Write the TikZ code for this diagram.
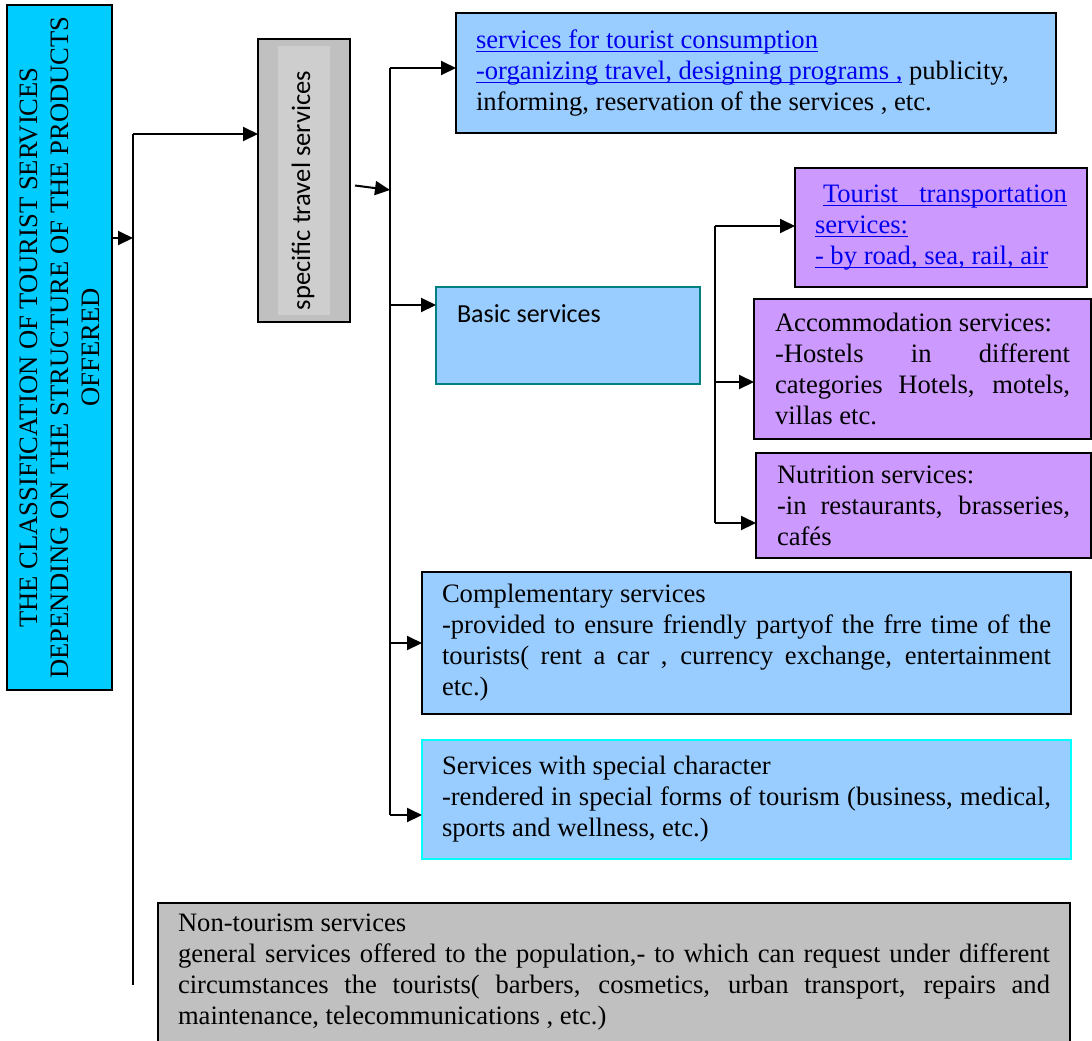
\documentclass[tikz,border=0pt]{standalone}
\usepackage{fontspec}
\setmainfont{Liberation Serif}
\newfontfamily\calibri{Carlito}
\usetikzlibrary{arrows.meta,calc}
\definecolor{maincyan}{HTML}{00CCFF}
\definecolor{skyblue}{HTML}{99CCFF}
\definecolor{lilac}{HTML}{CC99FF}
\definecolor{boxgray}{HTML}{C0C0C0}
\definecolor{bandgray}{HTML}{CECECE}
\definecolor{tealedge}{HTML}{008080}
\definecolor{cyanedge}{HTML}{00FFFF}
\definecolor{linkblue}{HTML}{0000EE}
\newcommand{\jline}[2][0pt]{{\spaceskip=\fontdimen2\font plus 1fil\relax\makebox[\dimexpr\hsize-#1\relax][s]{#2}}}
\newcommand{\lnk}[1]{\textcolor{linkblue}{\sbox0{#1}\rlap{\rule[-1.8pt]{\wd0}{0.5pt}}\usebox0}}

\begin{document}
\begin{tikzpicture}[x=0.5pt,y=-0.5pt]
\tikzstyle{box}=[draw,line width=1pt,outer sep=0pt,inner xsep=10pt,inner ysep=0pt,anchor=north west,align=left,font=\fontsize{13.3}{15.5}\selectfont,execute at begin node={\spaceskip=0pt\xspaceskip=0pt}]
\tikzstyle{feed}=[line width=1pt,-{Triangle[length=7.5pt,width=7pt]}]
\tikzstyle{trunk}=[line width=0.75pt]

\useasboundingbox (0,0) rectangle (1092,1040);

\node (main) [box,fill=maincyan,inner xsep=0pt,minimum width=52.5pt,minimum height=342.5pt] at (7,5) {\rotatebox{90}{\parbox{340pt}{\centering THE CLASSIFICATION OF TOURIST SERVICES\\ DEPENDING ON THE STRUCTURE OF THE PRODUCTS\\ OFFERED}}};

\node (spec) [box,fill=boxgray,inner xsep=0pt,minimum width=46pt,minimum height=141.5pt,font=\calibri\fontsize{13.3}{15.5}\selectfont,
  path picture={\fill[bandgray] ([xshift=10pt,yshift=-3.5pt]path picture bounding box.north west) rectangle ([xshift=-10pt,yshift=3.5pt]path picture bounding box.south east);}] at (258,39) {\rotatebox{90}{\raisebox{3pt}{specific travel services}\hspace{10pt}}};

\node (consum) [box,fill=skyblue,minimum width=300pt,minimum height=60pt,text width=280pt] at (456,13) {\lnk{services for tourist consumption}\\ \lnk{-organizing travel, designing programs ,} publicity,\\ informing, reservation of the services , etc.};

\node (basic) [box,draw=tealedge,fill=skyblue,inner xsep=10.5pt,inner ysep=9.5pt,text width=111pt,text height=8pt,text depth=21.5pt,font=\calibri\fontsize{13}{15.5}\selectfont] at (436,287) {Basic services};

\node (trans) [box,fill=lilac,minimum height=59.5pt,text width=126pt] at (795,168) {\hspace*{4pt}\lnk{\jline[4pt]{Tourist transportation}}\\ \lnk{services:}\\ \lnk{- by road, sea, rail, air}};

\node (accom) [box,fill=lilac,inner xsep=10.5pt,minimum height=70pt,text width=147.5pt] at (754,299) {Accommodation services:\\ \jline{-Hostels in different}\\ \jline{categories Hotels, motels,}\\ villas etc.};

\node (nutri) [box,fill=lilac,inner xsep=10.5pt,minimum height=52.5pt,text width=146.5pt] at (756,453) {Nutrition services:\\ \jline{-in restaurants, brasseries,}\\ cafés};

\node (comp) [box,fill=skyblue,minimum height=71pt,text width=304.5pt] at (422,572) {Complementary services\\ \jline{-provided to ensure friendly partyof the frre time of the}\\ \jline{tourists( rent a car , currency exchange, entertainment}\\ etc.)};

\node (special) [box,draw=cyanedge,fill=skyblue,minimum height=59.5pt,text width=304.5pt] at (422,740) {Services with special character\\ \jline{-rendered in special forms of tourism (business, medical,}\\ sports and wellness, etc.)};

\node (nontour) [box,fill=boxgray,minimum height=69.5pt,text width=436pt] at (158,903) {Non-tourism services\\ \jline{general services offered to the population,- to which can request under different}\\ \jline{circumstances the tourists( barbers, cosmetics, urban transport, repairs and}\\ maintenance, telecommunications , etc.)};

\coordinate (t1top) at (133,134);
\coordinate (t1bot) at (133,985);
\coordinate (t1in) at (133,238);
\coordinate (t2top) at (390,68);
\coordinate (t2bot) at (390,815);
\coordinate (t2in) at (390,190);
\coordinate (t2basic) at (390,305);
\coordinate (t3top) at (715,226);
\coordinate (t3bot) at (715,523);
\coordinate (t3acc) at (715,382);

\draw [trunk] (t1top) -- (t1bot);
\draw [feed] (main.east |- t1in) -- (t1in);
\draw [feed] (t1top) -- (t1top -| spec.west);

\draw [trunk] (t2top) -- (t2bot);
\draw [feed] ([xshift=2.5pt,yshift=-2.5pt]spec.east) -- (t2in);
\draw [feed] (t2top) -- (t2top -| consum.west);
\draw [feed] (t2basic) -- (t2basic -| basic.west);
\draw [feed] (t2top |- comp.west) -- (comp.west);
\draw [feed] (t2bot) -- (t2bot -| special.west);

\draw [trunk] (t3top) -- (t3bot);
\draw [feed] (t3top) -- (t3top -| trans.west);
\draw [feed] (t3acc) -- (t3acc -| accom.west);
\draw [feed] (t3bot) -- (t3bot -| nutri.west);

\end{tikzpicture}
\end{document}
